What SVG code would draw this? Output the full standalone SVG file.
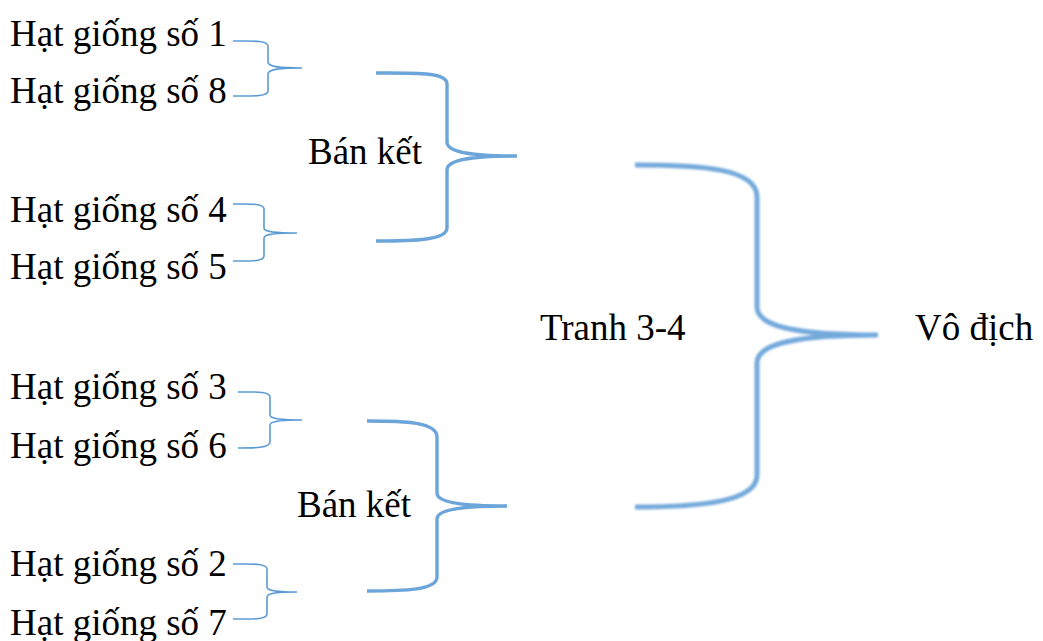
<svg xmlns="http://www.w3.org/2000/svg" width="1043" height="641" viewBox="0 0 1043 641">
<style>
text{font-family:"Liberation Serif","Times New Roman",serif;font-size:37px;fill:#000}
.s{fill:none;stroke:#5b9bd5;stroke-width:1.6;stroke-linecap:butt}
.m{fill:none;stroke:#5b9bd5;stroke-width:3.4;opacity:0.9}
.b{fill:none;stroke:#5b9bd5;stroke-width:5;opacity:0.85;filter:url(#bl)}
</style>
<defs>
<filter id="bl" x="-10%" y="-10%" width="120%" height="120%"><feGaussianBlur stdDeviation="0.9"/></filter>
</defs>
<rect width="1043" height="641" fill="#fff"/>
<g id="seed1"><text x="10" y="46">Hạt giống số 1</text></g>
<g id="seed8"><text x="10" y="103">Hạt giống số 8</text></g>
<g id="seed4"><text x="10" y="222">Hạt giống số 4</text></g>
<g id="seed5"><text x="10" y="279">Hạt giống số 5</text></g>
<g id="seed3"><text x="10" y="399">Hạt giống số 3</text></g>
<g id="seed6"><text x="10" y="458">Hạt giống số 6</text></g>
<g id="seed2"><text x="10" y="576">Hạt giống số 2</text></g>
<g id="seed7"><text x="10" y="635">Hạt giống số 7</text></g>
<g id="semi1"><text x="308" y="164">Bán kết</text></g>
<g id="semi2"><text x="297" y="517">Bán kết</text></g>
<g id="third"><text x="540" y="340">Tranh 3-4</text></g>
<g id="champion"><text x="915" y="340">Vô địch</text></g>
<g id="connectors">
<path class="s" d="M233,41 C250,41 268,40 268,46 L268,62 C268,67 280,68 302,68 M302,68 C280,68 268,69 268,74 L268,91 C268,97 250,96 233,96"/>
<path class="s" d="M233,204 C248,204 264,203 264,209 L264,228 C264,232 275,233 297,233 M297,233 C275,233 264,234 264,238 L264,256 C264,262 248,261 233,261"/>
<path class="s" d="M238,392 C254,392 270,391 270,397 L270,415 C270,419 282,420 302,420 M302,420 C282,420 270,421 270,425 L270,442 C270,448 254,448 238,448"/>
<path class="s" d="M233,564 C250,564 267,563 267,569 L267,587 C267,591 278,592 297,592 M297,592 C278,592 267,593 267,597 L267,614 C267,620 250,619 233,619"/>
<path class="m" d="M376,73 C415,73 447,72 447,84 L447,142 C447,152 470,156 517,156 M517,156 C470,156 447,160 447,170 L447,228 C447,240 415,241 376,241"/>
<path class="m" d="M367,421 C405,421 437,422 437,437 L437,493 C437,502 460,506 507,506 M507,506 C460,506 437,510 437,519 L437,577 C437,590 405,591 367,591"/>
<path class="b" d="M635,165 C700,165 757,168 757,197 L757,307 C757,325 790,335 878,335 M878,335 C790,335 757,345 757,363 L757,475 C757,502 700,507 635,507"/>
</g>
</svg>
